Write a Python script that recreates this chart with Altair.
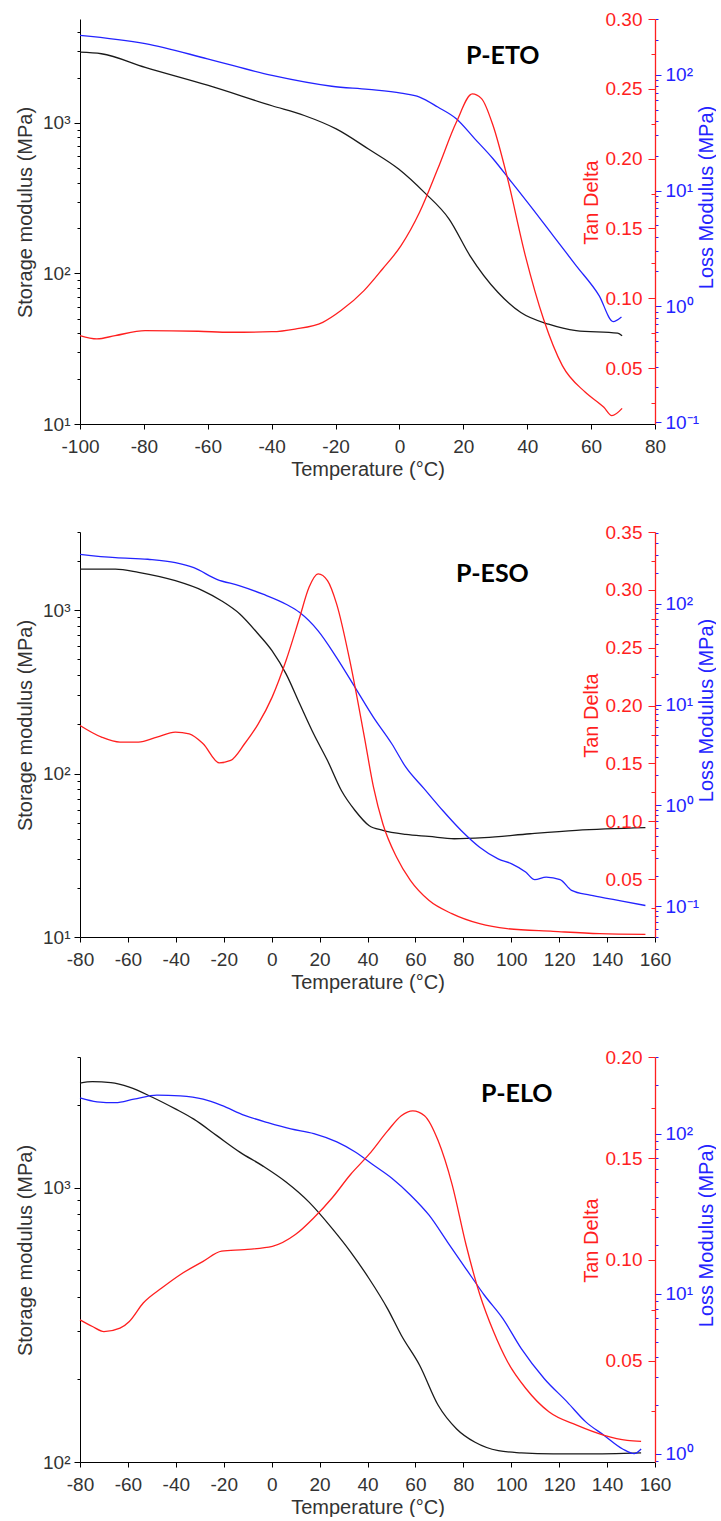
import altair as alt
import pandas as pd

# ---------------- data ----------------
# Panel 1: P-ETO
eto_storage_T = [-100, -93.3, -79.6, -60.1, -39.9, -29.8, -19.8, -9.7, -0.25, 7.7, 15.6, 22.1, 30.8, 38, 46.7, 55.3, 68.3, 69.7]
eto_storage_v = [2950, 2880, 2340, 1780, 1300, 1120, 912, 671, 494, 347, 229, 131, 75, 55, 46, 41.7, 40.1, 38.5]
eto_tan_T = [-100, -94.7, -89, -79.6, -63, -52.9, -39.9, -32.7, -24, -18.3, -11.1, -5.3, 0.5, 6.3, 12, 17.8, 22.8, 25.7, 29.3, 33.6, 39.4, 45.1, 51, 58.2, 64, 66.5, 69.7]
eto_tan_v = [0.0733, 0.0709, 0.0733, 0.0768, 0.0764, 0.0757, 0.0761, 0.078, 0.0828, 0.0912, 0.1055, 0.121, 0.1377, 0.1616, 0.1927, 0.226, 0.2464, 0.243, 0.2237, 0.188, 0.1306, 0.0852, 0.0518, 0.0327, 0.022, 0.016, 0.0212]
eto_loss_T = [-100, -79.6, -60.1, -39.9, -21.2, -9.7, 0.5, 6.3, 12, 17.8, 23.6, 29.3, 35.1, 40.9, 48.1, 55.3, 62.5, 66.9, 69.5]
eto_loss_v = [218, 185, 137, 98.4, 79.4, 74.5, 69.2, 64, 52.5, 41.6, 27.9, 18.8, 11.8, 7.41, 4.08, 2.25, 1.24, 0.74, 0.81]

# Panel 2: P-ESO
eso_storage_T = [-80, -65.2, -55.6, -40.2, -28.6, -21, -13.3, -5.6, 0.2, 6, 11.7, 17.5, 23.3, 29.1, 34.8, 40.6, 46.4, 56, 65.6, 76.2, 88.7, 107.9, 127.2, 156]
eso_storage_v = [1780, 1780, 1700, 1510, 1310, 1140, 946, 713, 562, 407, 267, 175, 120, 78.7, 59.4, 48.1, 44.9, 42.4, 41.2, 39.9, 40.5, 42.8, 44.9, 46.6]
eso_tan_T = [-80, -71, -63.3, -55.6, -47.9, -40.2, -34.4, -28.6, -21.9, -17.1, -11.3, -5.6, 0.2, 6, 11.7, 15.6, 19.4, 23.3, 27.1, 32.9, 38.7, 42.5, 46.4, 52.1, 57.9, 65.6, 75.2, 86.8, 98.3, 117.5, 136.8, 156]
eso_tan_v = [0.1828, 0.1727, 0.1684, 0.1684, 0.1727, 0.177, 0.1756, 0.167, 0.1505, 0.1526, 0.167, 0.1842, 0.2073, 0.2389, 0.2763, 0.3022, 0.3138, 0.308, 0.2879, 0.236, 0.1727, 0.1295, 0.0979, 0.0691, 0.0489, 0.0317, 0.0202, 0.0115, 0.0072, 0.0049, 0.0029, 0.0023]
eso_loss_T = [-80, -65.2, -51.7, -40.2, -32.5, -22.9, -13.3, -3.6, 6, 11.7, 19.4, 27.1, 34.8, 42.5, 50.2, 56, 63.7, 71.4, 79.1, 86.8, 94.5, 100.2, 106, 109.8, 114.6, 120.4, 125.2, 132.9, 142.5, 156]
eso_loss_v = [308, 285, 275, 255, 227, 174, 150, 124, 98.6, 81.5, 53.7, 29.2, 14.8, 7.46, 4.06, 2.39, 1.46, 0.891, 0.565, 0.386, 0.296, 0.264, 0.219, 0.184, 0.195, 0.184, 0.144, 0.129, 0.117, 0.102]

# Panel 3: P-ELO
elo_storage_T = [-80, -74.8, -67.1, -59.4, -49.8, -40.2, -32.5, -22.9, -13.3, -3.6, 6, 15.6, 25.3, 33, 40.7, 48.4, 54.1, 61.8, 69.5, 77.2, 84.9, 94.6, 104.2, 117.6, 131.1, 154.2]
elo_storage_v = [2410, 2440, 2420, 2330, 2140, 1940, 1780, 1550, 1350, 1200, 1050, 887, 710, 583, 466, 362, 290, 225, 161, 132, 118, 110, 108, 107, 107, 108]
elo_tan_T = [-80, -74.8, -70, -63.3, -59.4, -53.6, -45.9, -38.2, -28.6, -20.9, -11.3, 0.3, 9.9, 17.6, 25.3, 33, 40.7, 48.4, 54.1, 58.9, 63.8, 69.5, 75.3, 81.1, 86.9, 92.6, 98.4, 106.1, 115.7, 127.3, 138.8, 148.4, 154.2]
elo_tan_v = [0.0702, 0.0669, 0.0644, 0.0661, 0.0694, 0.0785, 0.0859, 0.0925, 0.0991, 0.1041, 0.1049, 0.1065, 0.1123, 0.1206, 0.1305, 0.1421, 0.152, 0.1635, 0.171, 0.1734, 0.171, 0.1586, 0.1371, 0.1074, 0.0826, 0.0644, 0.0496, 0.0363, 0.0248, 0.0182, 0.0132, 0.0107, 0.0102]
elo_loss_T = [-80, -72.9, -65.2, -57.5, -47.9, -38.2, -28.6, -20.9, -11.3, -1.6, 8, 17.6, 27.2, 34.9, 42.6, 50.3, 58, 65.7, 73.4, 81.1, 88.8, 96.5, 104.2, 113.8, 123.4, 131.1, 138.8, 146.5, 151.3, 154.2]
elo_loss_v = [167, 158, 156, 164, 174, 172, 164, 150, 130, 117, 107, 100, 88.7, 76.7, 63.4, 52.4, 41.2, 30.9, 21, 14.3, 9.77, 6.98, 4.53, 2.94, 2.1, 1.58, 1.3, 1.07, 1.0, 1.07]

panel_names = ["P-ETO", "P-ESO", "P-ELO"]
x_domains = [[-100, 80], [-80, 160], [-80, 160]]
x_ticks = [[-100, -80, -60, -40, -20, 0, 20, 40, 60, 80],
           [-80, -60, -40, -20, 0, 20, 40, 60, 80, 100, 120, 140, 160],
           [-80, -60, -40, -20, 0, 20, 40, 60, 80, 100, 120, 140, 160]]
storage_domains = [[10, 4900], [10, 3000], [100, 3000]]
tan_domains = [[0.01, 0.30], [0.0, 0.35], [0.0, 0.20]]
loss_domains = [[0.0966, 302], [0.0497, 512], [0.887, 301]]

# ---------------- style ----------------
FONT = "Liberation Sans"
W, H = 575, 405
BLACK_LINE = "#1a1a1a"
RED = "#ff1f1f"
BLUE = "#2323ff"
TEXT = "#333333"
LBL = 19
SUP = ("datum.value >= 999 ? '10³' : datum.value >= 99 ? '10²' : "
       "datum.value >= 9 ? '10¹' : datum.value >= 0.9 ? '10⁰' : '10⁻¹'")


def log_majors(dom):
    out, v = [], 1e-3
    while v <= dom[1] * 1.0001:
        if v >= dom[0] * 0.9999:
            out.append(v)
        v *= 10
    return [round(x, 6) for x in out]


def log_minors(dom):
    out, d = [], 1e-3
    while d <= dom[1]:
        for k in range(2, 10):
            val = d * k
            if dom[0] <= val <= dom[1]:
                out.append(round(val, 6))
        d *= 10
    return out


def tan_ticks(dom, step, offset):
    out, i = [], 0
    while True:
        val = round(offset + i * step, 4)
        if val > dom[1] + 1e-9:
            break
        if val >= dom[0] - 1e-9 and val > 0:
            out.append(val)
        i += 1
    return out


def make_panel(idx, sT, sV, tT, tV, lT, lV, title_dx, title_dy):
    xdom = x_domains[idx]
    xenc = alt.X("T:Q", scale=alt.Scale(domain=xdom, nice=False, zero=False),
                 axis=alt.Axis(values=x_ticks[idx], title="Temperature (°C)", grid=False,
                               labelExpr="toString(datum.value)",
                               labelFontSize=LBL, titleFontSize=20, labelFont=FONT, titleFont=FONT,
                               labelColor=TEXT, titleColor=TEXT, titleFontWeight="normal",
                               tickSize=5, tickColor="#000", domainColor="#000",
                               labelPadding=8, titlePadding=3, labelFlush=False))
    sdf = pd.DataFrame({"T": sT, "E": sV})
    tdf = pd.DataFrame({"T": tT, "tan": tV})
    ldf = pd.DataFrame({"T": lT, "G": lV})

    sdom, tdom, ldom = storage_domains[idx], tan_domains[idx], loss_domains[idx]
    s_scale = alt.Scale(type="log", domain=sdom, nice=False)
    t_scale = alt.Scale(domain=tdom, nice=False, zero=False)
    l_scale = alt.Scale(type="log", domain=ldom, nice=False)

    storage = alt.Chart(sdf).mark_line(color=BLACK_LINE, strokeWidth=1.3, interpolate="monotone").encode(
        x=xenc,
        y=alt.Y("E:Q", scale=s_scale,
                axis=alt.Axis(orient="left", values=log_majors(sdom), labelExpr=SUP, grid=False,
                              labelFontSize=LBL, labelFont=FONT, labelColor=TEXT, labelPadding=4,
                              labelOverlap=False, tickSize=6, tickColor="#000", domainColor="#000",
                              title="Storage modulus (MPa)", titleFont=FONT, titleFontSize=20,
                              titleFontWeight="normal", titleColor=TEXT, titleAngle=270,
                              titleX=-49, titleY=193, titleAlign="center", titleBaseline="alphabetic")))
    storage_minor = alt.Chart(sdf).mark_line(opacity=0).encode(
        x=xenc,
        y=alt.Y("E:Q", scale=s_scale,
                axis=alt.Axis(orient="left", values=log_minors(sdom), labels=False, grid=False,
                              tickSize=3, tickColor="#000", domain=False, title=None)))

    tan = alt.Chart(tdf).mark_line(color=RED, strokeWidth=1.3, interpolate="monotone").encode(
        x=xenc,
        y=alt.Y("tan:Q", scale=t_scale,
                axis=alt.Axis(orient="left", offset=-W, values=tan_ticks(tdom, 0.05, 0.0), format=".2f",
                              grid=False, labelFontSize=LBL, labelFont=FONT, labelColor=RED,
                              labelPadding=6, labelOverlap=False, tickSize=7, tickColor=RED,
                              domainColor=RED, domainWidth=1.3, zindex=1,
                              title="Tan Delta", titleFont=FONT, titleFontSize=20,
                              titleFontWeight="normal", titleColor=RED, titleAngle=270,
                              titleX=-58, titleY=183, titleAlign="center", titleBaseline="alphabetic")))
    tan_minor = alt.Chart(tdf).mark_line(opacity=0).encode(
        x=xenc,
        y=alt.Y("tan:Q", scale=t_scale,
                axis=alt.Axis(orient="left", offset=-W, values=tan_ticks(tdom, 0.05, 0.025),
                              labels=False, grid=False, tickSize=4, tickColor=RED, domain=False,
                              title=None)))

    loss = alt.Chart(ldf).mark_line(color=BLUE, strokeWidth=1.3, interpolate="monotone").encode(
        x=xenc,
        y=alt.Y("G:Q", scale=l_scale,
                axis=alt.Axis(orient="right", values=log_majors(ldom), labelExpr=SUP, grid=False,
                              labelFontSize=LBL, labelFont=FONT, labelColor=BLUE, labelPadding=4,
                              labelOverlap=False, tickSize=6, tickColor=BLUE, domain=False,
                              title="Loss Modulus (MPa)", titleFont=FONT, titleFontSize=20,
                              titleFontWeight="normal", titleColor=BLUE, titleAngle=270,
                              titleX=57, titleY=178, titleAlign="center", titleBaseline="alphabetic")))
    loss_minor = alt.Chart(ldf).mark_line(opacity=0).encode(
        x=xenc,
        y=alt.Y("G:Q", scale=l_scale,
                axis=alt.Axis(orient="right", values=log_minors(ldom), labels=False, grid=False,
                              tickSize=3, tickColor=BLUE, domain=False, title=None)))

    return alt.layer(storage_minor, loss_minor, storage, loss, tan_minor, tan).resolve_scale(
        y="independent").resolve_axis(y="independent").properties(
        width=W, height=H,
        title=alt.TitleParams(text=panel_names[idx], font="Lato", fontSize=25, fontWeight="bold",
                              color="#000", anchor="start", frame="group", orient="top",
                              offset=0, baseline="top", dx=title_dx, dy=title_dy))


p1 = make_panel(0, eto_storage_T, eto_storage_v, eto_tan_T, eto_tan_v, eto_loss_T, eto_loss_v, 386, 59)
p2 = make_panel(1, eso_storage_T, eso_storage_v, eso_tan_T, eso_tan_v, eso_loss_T, eso_loss_v, 376, 64)
p3 = make_panel(2, elo_storage_T, elo_storage_v, elo_tan_T, elo_tan_v, elo_loss_T, elo_loss_v, 401, 59)

chart = alt.vconcat(alt.vconcat(p1, p2, spacing=44), p3, spacing=56).properties(
    padding={"left": 15, "top": 10, "right": 0, "bottom": 0},
    background="white"
).configure_view(stroke=None, strokeWidth=0).configure_axis(grid=False)

chart.save("out.html", embed_options={"renderer": "svg", "actions": False})
